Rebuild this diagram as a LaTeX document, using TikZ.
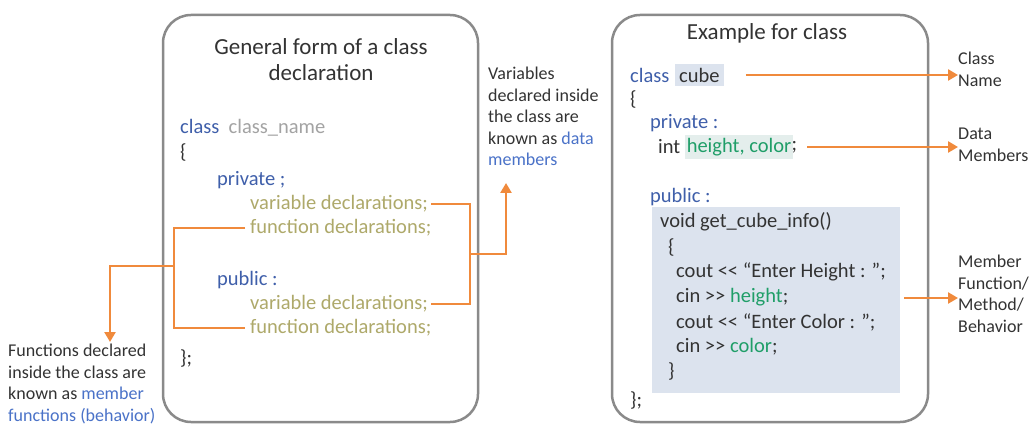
\documentclass[tikz,border=0pt]{standalone}
\usepackage{fontspec}
\setmainfont{Carlito}
\usetikzlibrary{arrows.meta}

\definecolor{txt}{HTML}{333333}
\definecolor{kw}{HTML}{3F5FAA}
\definecolor{lblue}{HTML}{4A72C8}
\definecolor{cname}{HTML}{A3A3A3}
\definecolor{decl}{HTML}{AEA96A}
\definecolor{grn}{HTML}{1F9E68}
\definecolor{orng}{HTML}{F08A3C}
\definecolor{frame}{HTML}{8A8A8A}
\definecolor{codebg}{HTML}{DCE3EE}
\definecolor{hlgrn}{HTML}{E4EEEC}

\newcommand{\kwd}[1]{\textcolor{kw}{#1}}
\newcommand{\dcl}[1]{\textcolor{decl}{#1}}
\newcommand{\grt}[1]{\textcolor{grn}{#1}}
\newcommand{\lbl}[1]{\textcolor{lblue}{#1}}
\newcommand{\shl}{<\kern0pt<}
\newcommand{\shr}{>\kern0pt>}

\tikzset{
  panel/.style={draw=frame, line width=2.5pt, rounded corners=28pt, fill=white},
  title/.style={font=\fontsize{23}{27}\selectfont, text=txt, align=center, inner sep=0pt},
  code/.style={font=\fontsize{20.5}{24}\selectfont, text=txt, anchor=west, inner sep=0pt},
  note/.style={font=\fontsize{18}{21.5}\selectfont, text=txt, align=left, anchor=north west, inner sep=0pt},
  link/.style={draw=orng, line width=2.6pt},
  pointer/.style={link, -{Triangle[width=11pt,length=10pt]}},
}

\begin{document}
\begin{tikzpicture}[x=1pt,y=-1pt]
\useasboundingbox (0,0) rectangle (1032,427);
\fill[white] (0,0) rectangle (1032,427);

% ---------- left panel: general form ----------
\draw[panel] (163,15) rectangle (478,422);
\node[title] (t1) at (321,47) {General form of a class};
\node[title] (t2) at (321,73) {declaration};

\node[code] (l1) at (180,128) {\kwd{class}\ \ \textcolor{cname}{class\_name}};
\node[code] (l2) at (180,152) {\{};
\node[code] (l3) at (217,180) {\kwd{private ;}};
\node[code] (v1) at (250,204) {\dcl{variable declarations;}};
\node[code] (f1) at (250,228) {\dcl{function declarations;}};
\node[code] (l4) at (217,280) {\kwd{public :}};
\node[code] (v2) at (250,304) {\dcl{variable declarations;}};
\node[code] (f2) at (250,328) {\dcl{function declarations;}};
\node[code] (l5) at (180,358) {\};};

% ---------- notes around the left panel ----------
\node[note] (datanote) at (488,67)
  {Variables\\declared inside\\the class are\\known as \lbl{data}\\\lbl{members}};
\node[note] (funcnote) at (8,344)
  {Functions declared\\inside the class are\\known as \lbl{member}\\\lbl{functions (behavior)}};

% bracket joining the variable declarations
\coordinate (vb) at (470,254);
\coordinate (vtip) at (506,183);
\draw[link] ([xshift=3pt]v1.east) -| (vb) |- ([xshift=3pt]v2.east);
\draw[pointer] (vb) -| (vtip);

% bracket joining the function declarations
\coordinate (fb) at (174,266);
\coordinate (ftip) at (110,342);
\draw[link] ([xshift=-5pt]f1.west) -| (fb) |- ([xshift=-5pt]f2.west);
\draw[pointer] (fb) -| (ftip);

% ---------- right panel: example ----------
\draw[panel] (612,15) rectangle (928,422);
\node[title] (t3) at (767,33) {Example for class};

\fill[codebg] (652,207) rectangle (900,393);
\node[code] (r1) at (630,75) {\kwd{class}};
\node[code, fill=codebg, inner xsep=4pt, inner ysep=4pt] (cube) at (675,75) {cube};
\node[code] (r2) at (630,99) {\{};
\node[code] (r3) at (650,123) {\kwd{private :}};
\node[code] (r4a) at (658,147) {int};
\node[code, fill=hlgrn, inner xsep=2pt, inner ysep=3pt] (hc) at (r4a.east) [xshift=4pt] {\grt{height, color}};
\node[code] (r4b) at ([xshift=-2pt]hc.east) {;};
\node[code] (r5) at (650,197) {\kwd{public :}};
\node[code] (r6) at (660,222) {void get\_cube\_info()};
\node[code] (r7) at (668,247) {\{};
\node[code] (r8) at (676,272) {cout \shl\ “Enter Height : ”;};
\node[code] (r9) at (676,297) {cin \shr\ \grt{height};};
\node[code] (r10) at (676,322) {cout \shl\ “Enter Color : ”;};
\node[code] (r11) at (676,347) {cin \shr\ \grt{color};};
\node[code] (r12) at (668,371) {\}};
\node[code] (r13) at (630,400) {\};};

% ---------- notes on the right ----------
\node[note] (namenote) at (958,52) {Class\\Name};
\node[note] (membnote) at (958,128) {Data\\Members};
\node[note] (fnnote) at (958,255) {Member\\Function/\\Method/\\Behavior};

\coordinate (mfrom) at (904,298);
\draw[pointer] ([xshift=22pt]cube.east) -- (namenote.west |- cube.east);
\draw[pointer] ([xshift=10pt]r4b.east) -- (membnote.west |- r4b.east);
\draw[pointer] (mfrom) -- (fnnote.west |- mfrom);
\end{tikzpicture}
\end{document}
